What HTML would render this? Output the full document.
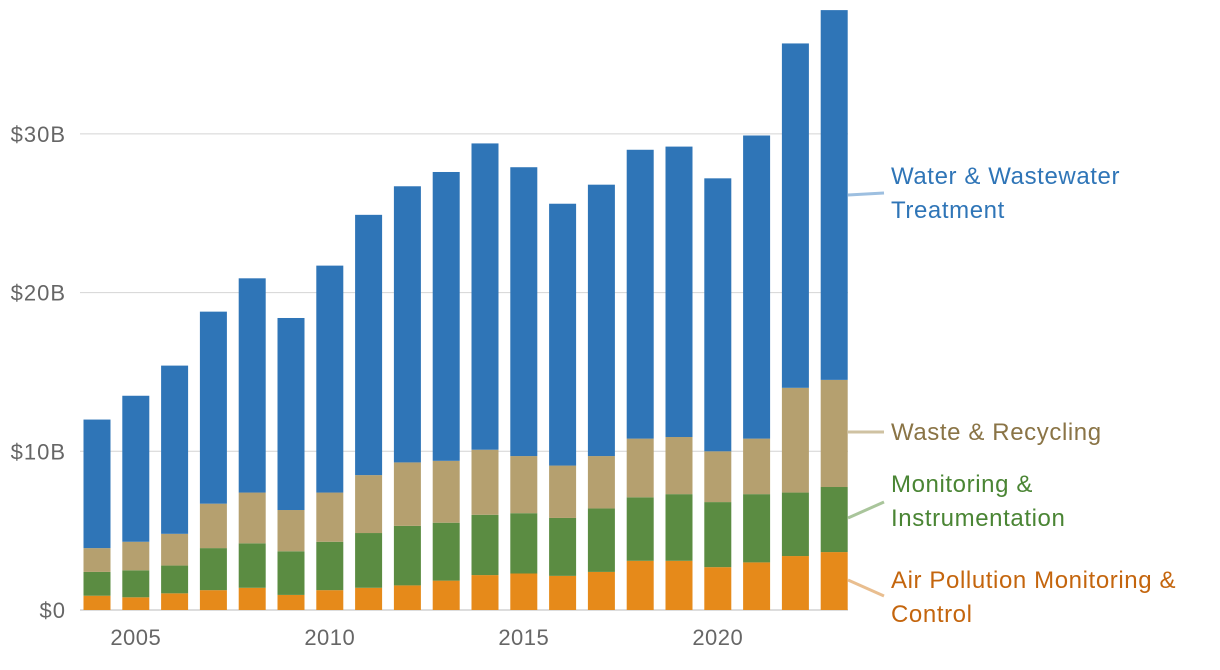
<!DOCTYPE html>
<html><head><meta charset="utf-8"><style>
body{margin:0;background:#fff;}
svg{display:block;font-family:"Liberation Sans",sans-serif;}
</style></head><body>
<svg id="chart" width="1220" height="670"></svg>
<script>
const years=[2004,2005,2006,2007,2008,2009,2010,2011,2012,2013,2014,2015,2016,2017,2018,2019,2020,2021,2022,2023];
const airValues=[0.9,0.8,1.05,1.25,1.4,0.95,1.25,1.4,1.55,1.85,2.2,2.3,2.15,2.4,3.1,3.1,2.7,3.0,3.4,3.65];
const monitoringValues=[1.5,1.7,1.75,2.65,2.8,2.75,3.05,3.45,3.75,3.65,3.8,3.8,3.65,4.0,4.0,4.2,4.1,4.3,4.0,4.1];
const wasteValues=[1.5,1.8,2.0,2.8,3.2,2.6,3.1,3.65,4.0,3.9,4.1,3.6,3.3,3.3,3.7,3.6,3.2,3.5,6.6,6.75];
const waterValues=[8.1,9.2,10.6,12.1,13.5,12.1,14.3,16.4,17.4,18.2,19.3,18.2,16.5,17.1,18.2,18.3,17.2,19.1,21.7,23.3];
const yTicks=[0,10,20,30];
const yTickLabels=["$0","$10B","$20B","$30B"];
const xTicks=[2005,2010,2015,2020];

const NS="http://www.w3.org/2000/svg";
const svg=document.getElementById('chart');
const y0=610,pxPerB=15.87;
const yS=v=>y0-v*pxPerB;
const xS=yr=>97+(yr-2004)*38.8;
const bw=27;
function mk(tag,attrs,parent){const e=document.createElementNS(NS,tag);for(const k in attrs)e.setAttribute(k,attrs[k]);(parent||svg).appendChild(e);return e;}

yTicks.forEach((t,i)=>{
  const l=mk('line',{x1:80,x2:848,y1:yS(t),y2:yS(t),stroke:t===0?'#bbb':'#d4d4d4','stroke-width':1});
  
  
  const tx=mk('text',{x:66,y:yS(t)+8,'text-anchor':'end','font-size':22,'letter-spacing':1,fill:'#666'});
  tx.textContent=yTickLabels[i];
  
  
});
xTicks.forEach(t=>{
  const tx=mk('text',{x:xS(t),y:645,'text-anchor':'middle','font-size':22,'letter-spacing':0.5,fill:'#666'});
  tx.textContent=t;
  
  
});
const series=[
 {vals:airValues,color:'#e68a1a',name:'air'},
 {vals:monitoringValues,color:'#5b8c42',name:'monitoring'},
 {vals:wasteValues,color:'#b5a06f',name:'waste'},
 {vals:waterValues,color:'#2f75b7',name:'water'}];
years.forEach((yr,i)=>{
  let cum=0;
  series.forEach(s=>{
    const v=s.vals[i];
    const r=mk('rect',{x:xS(yr)-bw/2,y:yS(cum+v),width:bw,height:v*pxPerB,fill:s.color});
    
    
    cum+=v;
  });
});
const legend=[
 {lines:["Water & Wastewater","Treatment"],y:176,ly1:195,ly2:193,color:'#2f75b7',lc:'#9dbfe0',name:'legend-water'},
 {lines:["Waste & Recycling"],y:432,ly1:432,ly2:432,color:'#8a7446',lc:'#cfc2a2',name:'legend-waste'},
 {lines:["Monitoring &","Instrumentation"],y:484,ly1:518,ly2:502,color:'#4a8534',lc:'#a9c59b',name:'legend-monitoring'},
 {lines:["Air Pollution Monitoring &","Control"],y:580,ly1:580,ly2:596,color:'#c4650d',lc:'#e9be8f',name:'legend-air'}];
legend.forEach(L=>{
  const g=mk('g',{});
  
  
  mk('line',{x1:848,x2:884,y1:L.ly1,y2:L.ly2,stroke:L.lc,'stroke-width':3},g);
  L.lines.forEach((t,j)=>{
    const tx=mk('text',{x:891,y:L.y+8+j*34,'font-size':24,'letter-spacing':0.6,fill:L.color},g);
    tx.textContent=t;
  });
});
</script>
</body></html>
